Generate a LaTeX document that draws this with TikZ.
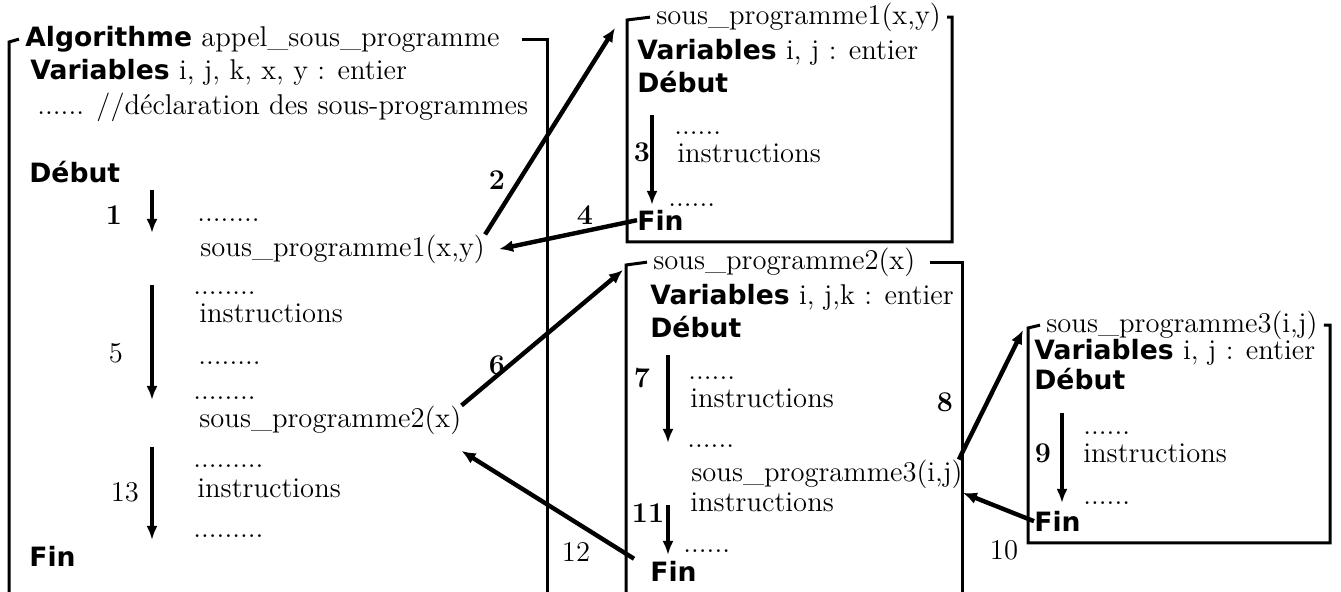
\documentclass[tikz,border=0pt]{standalone}
\usepackage{fontspec}
\usepackage{tikz}
\usetikzlibrary{arrows.meta}
\newfontfamily\kwfont{DejaVu Sans}
\newcommand{\kw}[1]{{\fontsize{13.3}{16}\selectfont\kwfont\bfseries #1}}
\tikzset{
  txt/.style={anchor=mid west, inner sep=0pt, font=\fontsize{14.3}{17}\selectfont},
  ttl/.style={txt, inner xsep=3pt},
  nb/.style={inner sep=0pt, font=\fontsize{14.3}{17}\selectfont\bfseries},
  nr/.style={inner sep=0pt, font=\fontsize{14.3}{17}\selectfont},
  frame/.style={line width=1.5pt},
  flow/.style={line width=1.8pt, -{Latex[length=7pt,width=5.5pt]}},
  call/.style={line width=2.2pt, -{Latex[length=7pt,width=6pt]}}
}
\begin{document}
\begin{tikzpicture}[x=0.5pt, y=-0.5pt]
\useasboundingbox (0,0) rectangle (1341,592);

% corners of the frames
\coordinate (A) at (9,42);
\coordinate (Ar) at (547,592);
\coordinate (B1) at (627,20);
\coordinate (B1se) at (952,242);
\coordinate (B2) at (626,265);
\coordinate (B2r) at (962,592);
\coordinate (B3) at (1028,328);
\coordinate (B3se) at (1330,543);

% main algorithm
\node[ttl] (Alg) at (19,42) {\kw{Algorithme} appel\_sous\_programme};
\draw[frame] (Alg.west) -- (A) -- (A |- Ar);
\draw[frame] ([xshift=8pt]Alg.east) -| (Ar);
\node[txt] (Var0) at (30,75) {\kw{Variables} i, j, k, x, y : entier};
\node[txt] (Dec0) at (37,110) {...... //déclaration des sous-programmes};
\node[txt] (Deb0) at (29,178) {\kw{Début}};
\node[txt] (d01) at (197,217) {........};
\node[txt] (call1) at (200,252) {sous\_programme1(x,y)};
\node[txt] (d02) at (193,290) {........};
\node[txt] (i01) at (199,318) {instructions};
\node[txt] (d03) at (198,360) {........};
\node[txt] (d04) at (193,395) {........};
\node[txt] (call2) at (199,423) {sous\_programme2(x)};
\node[txt] (d05) at (193,463) {.........};
\node[txt] (i02) at (197,493) {instructions};
\node[txt] (d06) at (193,533) {.........};
\node[txt] (Fin0) at (29,562) {\kw{Fin}};
\draw[flow] (152,190) -- (152,233);
\draw[flow] (152,285) -- (152,400);
\draw[flow] (152,447) -- (152,540);
\node[nb] (n1) at (114,215) {1};
\node[nr] (n5) at (116,353) {5};
\node[nr] (n13) at (125,492) {13};

% sous_programme1
\node[ttl] (T1) at (650,20) {sous\_programme1(x,y)};
\draw[frame] (T1.west) -- (B1) |- (B1se) |- (T1.east);
\node[txt] (Var1) at (637,55) {\kw{Variables} i, j : entier};
\node[txt] (Deb1) at (637,88) {\kw{Début}};
\node[txt] (d11) at (674,130) {......};
\node[txt] (i11) at (677,158) {instructions};
\node[txt] (d12) at (668,202) {......};
\node[txt] (Fin1) at (637,226) {\kw{Fin}};
\draw[flow] (652,115) -- (652,205);
\node[nb] (n3) at (642,152) {3};

% sous_programme2
\node[ttl] (T2) at (647,265) {sous\_programme2(x)};
\draw[frame] (T2.west) -- (B2) -- (B2 |- B2r);
\draw[frame] ([xshift=4pt]T2.east) -| (B2r);
\node[txt] (Var2) at (650,300) {\kw{Variables} i, j,k : entier};
\node[txt] (Deb2) at (650,333) {\kw{Début}};
\node[txt] (d21) at (688,375) {......};
\node[txt] (i21) at (690,403) {instructions};
\node[txt] (d22) at (687,443) {......};
\node[txt] (call3) at (691,477) {sous\_programme3(i,j)};
\node[txt] (i22) at (690,507) {instructions};
\node[txt] (d23) at (683,548) {......};
\node[txt] (Fin2) at (650,577) {\kw{Fin}};
\draw[flow] (668,355) -- (668,443);
\draw[flow] (668,505) -- (668,555);
\node[nb] (n7) at (642,378) {7};
\node[nb] (n11) at (648,513) {11};

% sous_programme3
\node[ttl] (T3) at (1040,328) {sous\_programme3(i,j)};
\draw[frame] (T3.west) -- (B3) |- (B3se) |- (T3.east);
\node[txt] (Var3) at (1034,355) {\kw{Variables} i, j : entier};
\node[txt] (Deb3) at (1034,385) {\kw{Début}};
\node[txt] (d31) at (1083,430) {......};
\node[txt] (i31) at (1083,458) {instructions};
\node[txt] (d32) at (1083,500) {......};
\node[txt] (Fin3) at (1034,527) {\kw{Fin}};
\draw[flow] (1062,413) -- (1062,503);
\node[nb] (n9) at (1043,453) {9};

% appels et retours
\draw[call] (call1.north east) -- ([xshift=-6pt,yshift=-4pt]B1);
\draw[call] (Fin1.west) -- ([xshift=7pt]call1.east);
\draw[call] (call2.north east) -- ([xshift=-1.5pt,yshift=-2.5pt]B2);
\draw[call] ([xshift=-8pt,yshift=1pt]Fin2.north west) -- ([yshift=-8pt]call2.south east);
\draw[call] ([xshift=-2pt]call3.north east) -- ([xshift=-2.5pt,yshift=-1pt]B3);
\draw[call] (Fin3.west) -- ([yshift=-2pt]call3.south east);
\node[nb] (n2) at (497,180) {2};
\node[nb] (n4) at (585,215) {4};
\node[nb] (n6) at (497,365) {6};
\node[nb] (n8) at (945,402) {8};
\node[nr] (n10) at (1004,550) {10};
\node[nr] (n12) at (576,552) {12};
\end{tikzpicture}
\end{document}
